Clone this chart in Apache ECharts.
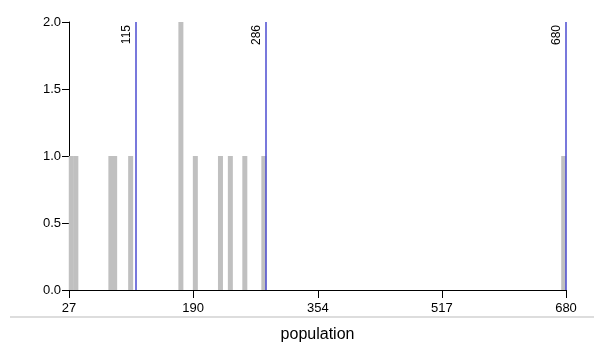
<!DOCTYPE html>
<html>
<head>
<meta charset="utf-8">
<script src="https://cdn.jsdelivr.net/npm/echarts@6/dist/echarts.min.js"></script>
<style>
  html, body { margin: 0; padding: 0; background: #fff; }
  #chart { width: 594px; height: 345px; }
</style>
</head>
<body>
<div id="chart"></div>
<script>
// population values and their counts
const populations = [30, 36, 82, 87, 108, 174, 193, 226, 239, 258, 283, 677];
const counts = [1, 1, 1, 1, 1, 2, 1, 1, 1, 1, 1, 1];
// vertical marker lines
const markers = [115, 286, 680];
const xTicks = [27, 190, 354, 517, 680];

const chart = echarts.init(document.getElementById('chart'));

const option = {
    animation: false,
    textStyle: { fontFamily: 'Liberation Sans, Arial, sans-serif' },
    grid: { left: 69, right: 28, top: 22, bottom: 55, outerBoundsMode: 'none', containLabel: false },
    xAxis: {
        type: 'value',
        min: 27,
        max: 680,
        name: 'population',
        nameLocation: 'middle',
        nameGap: 37,
        nameTextStyle: { fontSize: 16, color: '#000' },
        splitLine: { show: false },
        axisLine: { lineStyle: { color: '#000', width: 1 } },
        axisTick: { show: true, length: 8, customValues: xTicks, lineStyle: { color: '#000' } },
        axisLabel: { customValues: xTicks, fontSize: 13, color: '#000', margin: 12 },
    },
    yAxis: {
        type: 'value',
        min: 0,
        max: 2,
        interval: 0.5,
        splitLine: { show: false },
        axisLine: { show: true, lineStyle: { color: '#000', width: 1 } },
        axisTick: { show: true, length: 7, lineStyle: { color: '#000' } },
        axisLabel: {
            fontSize: 13,
            color: '#000',
            margin: 8,
            formatter: v => v.toFixed(1),
        },
    },
    graphic: [{
        type: 'line',
        shape: { x1: 10, y1: 317, x2: 594, y2: 317 },
        style: { stroke: '#dddddd', lineWidth: 2 },
    }],
    series: [{
        type: 'bar',
        barWidth: 5,
        itemStyle: { color: '#c0c0c0' },
        data: populations.map((p, i) => [p, counts[i]]),
        markLine: {
            silent: true,
            symbol: 'none',
            lineStyle: { color: '#4b4bd0', width: 1.5, type: 'solid' },
            label: {
                position: 'insideEndTop',
                formatter: '{c}',
                fontSize: 12,
                color: '#000',
                distance: 3,
            },
            data: markers.map(m => ({ xAxis: m })),
        },
    }],
};

chart.setOption(option);
</script>
</body>
</html>
